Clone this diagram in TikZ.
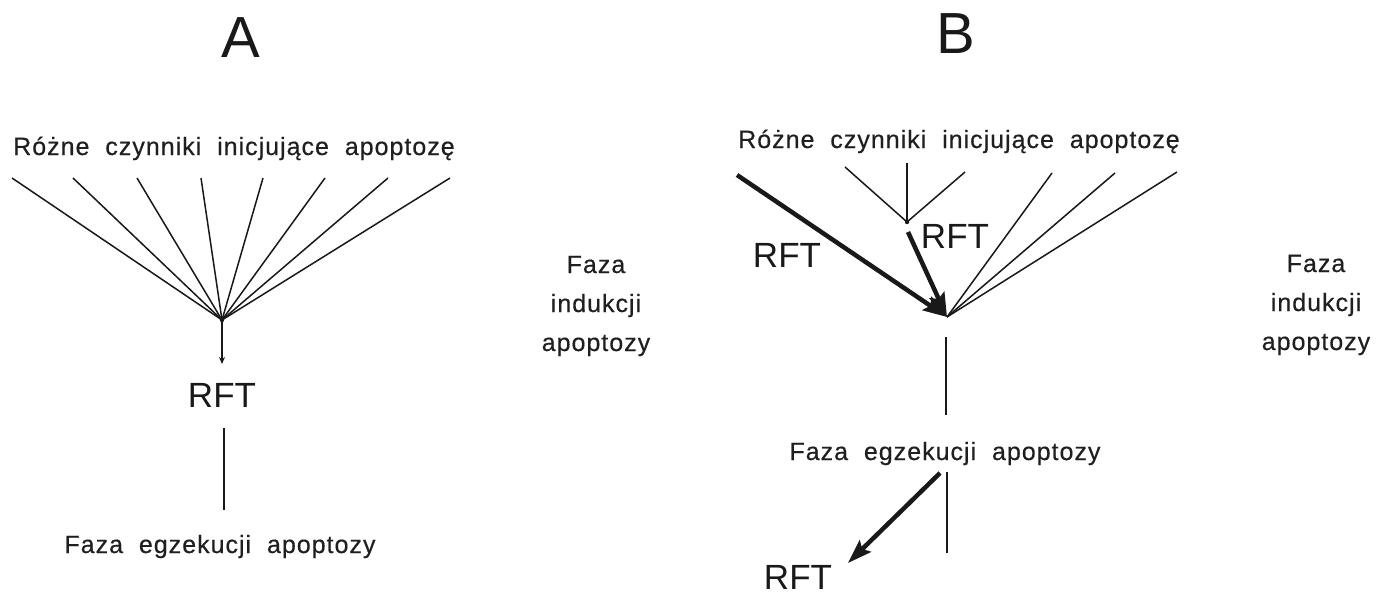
\documentclass[tikz,border=0pt]{standalone}
\usepackage{fontspec}
\setmainfont{Liberation Sans}[LetterSpace=4, WordSpace=2, FakeBold=0.4]
\newfontfamily\plainfont{Liberation Sans}
\usetikzlibrary{arrows.meta}
\begin{document}
\begin{tikzpicture}[x=1pt, y=-1pt,
  label text/.style={font=\fontsize{25}{29}\selectfont, inner sep=0pt, anchor=base, text=black!88},
  rft/.style={font=\plainfont\fontsize{35}{40}\selectfont, inner sep=0pt, anchor=base, text=black!90},
  panel title/.style={font=\plainfont\fontsize{58}{64}\selectfont, inner sep=0pt, anchor=base, text=black!90},
  ray/.style={line width=1.5pt, black!90},
  heavy/.style={line width=4.5pt, black!90, -{Stealth[length=24pt, width=16pt, inset=4pt]}},
  stem/.style={line width=1.8pt, black!90}
]
\useasboundingbox (0,0) rectangle (1384,597);
\fill[white] (0,0) rectangle (1384,597);

% ---------------- panel A ----------------
\node[panel title] (titleA) at (241,57) {A};
\node[label text] (initA) at (234,155) {Różne czynniki inicjujące apoptozę};

\coordinate (hubA) at (222,320);
\foreach \x [count=\i] in {12,73,137,201,263,325,388,450}
  \coordinate (srcA\i) at (\x,178);
\foreach \i in {1,...,8}
  \draw[ray] (srcA\i) -- (hubA);
\fill[black!90] (hubA) circle (2.2pt);

\node[rft] (rftA) at (222,407) {RFT};
\draw[ray, -{Stealth[length=7pt, width=6pt]}] (hubA) -- (rftA.north |- 0,364);

\coordinate (stemA1) at (224,428);
\coordinate (stemA2) at (224,510);
\draw[stem] (stemA1) -- (stemA2);

\node[label text] (execA) at (220,553) {Faza egzekucji apoptozy};

\node[label text] (indA1) at (596,273) {Faza};
\node[label text] (indA2) at (596,312) {indukcji};
\node[label text] (indA3) at (596,351) {apoptozy};

% ---------------- panel B ----------------
\node[panel title] (titleB) at (956,53) {B};
\node[label text] (initB) at (959,148) {Różne czynniki inicjujące apoptozę};

\coordinate (hubB) at (947,317);
\coordinate (subHub) at (907,222);
\coordinate (subOut) at (908,232);

\coordinate (srcB1) at (737,175);
\coordinate (srcB2) at (845,167);
\coordinate (srcB3) at (907,163);
\coordinate (srcB4) at (965,172);
\coordinate (srcB5) at (1052,173);
\coordinate (srcB6) at (1115,173);
\coordinate (srcB7) at (1177,172);

\draw[ray] (srcB2) -- (subHub);
\draw[ray] (srcB3) -- (subHub);
\draw[ray] (srcB4) -- (subHub);
\fill[black!90] (subHub) circle (2.2pt);

\foreach \i in {5,6,7}
  \draw[ray] (srcB\i) -- (hubB);

\draw[heavy] (srcB1) -- (hubB);
\draw[heavy] (subOut) -- (hubB);

\node[rft] (rftB1) at (787,267) {RFT};
\node[rft] (rftB2) at (955,248) {RFT};

\coordinate (stemB1) at (946,337);
\coordinate (stemB2) at (946,415);
\draw[stem] (stemB1) -- (stemB2);

\node[label text] (execB) at (945,460) {Faza egzekucji apoptozy};

\coordinate (execOut) at (940,473);
\coordinate (rftTip) at (848,563);
\draw[heavy] (execOut) -- (rftTip);

\coordinate (stemB3) at (947,472);
\coordinate (stemB4) at (947,553);
\draw[stem] (stemB3) -- (stemB4);

\node[rft] (rftB3) at (798,589) {RFT};

\node[label text] (indB1) at (1316,272) {Faza};
\node[label text] (indB2) at (1316,311) {indukcji};
\node[label text] (indB3) at (1316,350) {apoptozy};
\end{tikzpicture}
\end{document}
